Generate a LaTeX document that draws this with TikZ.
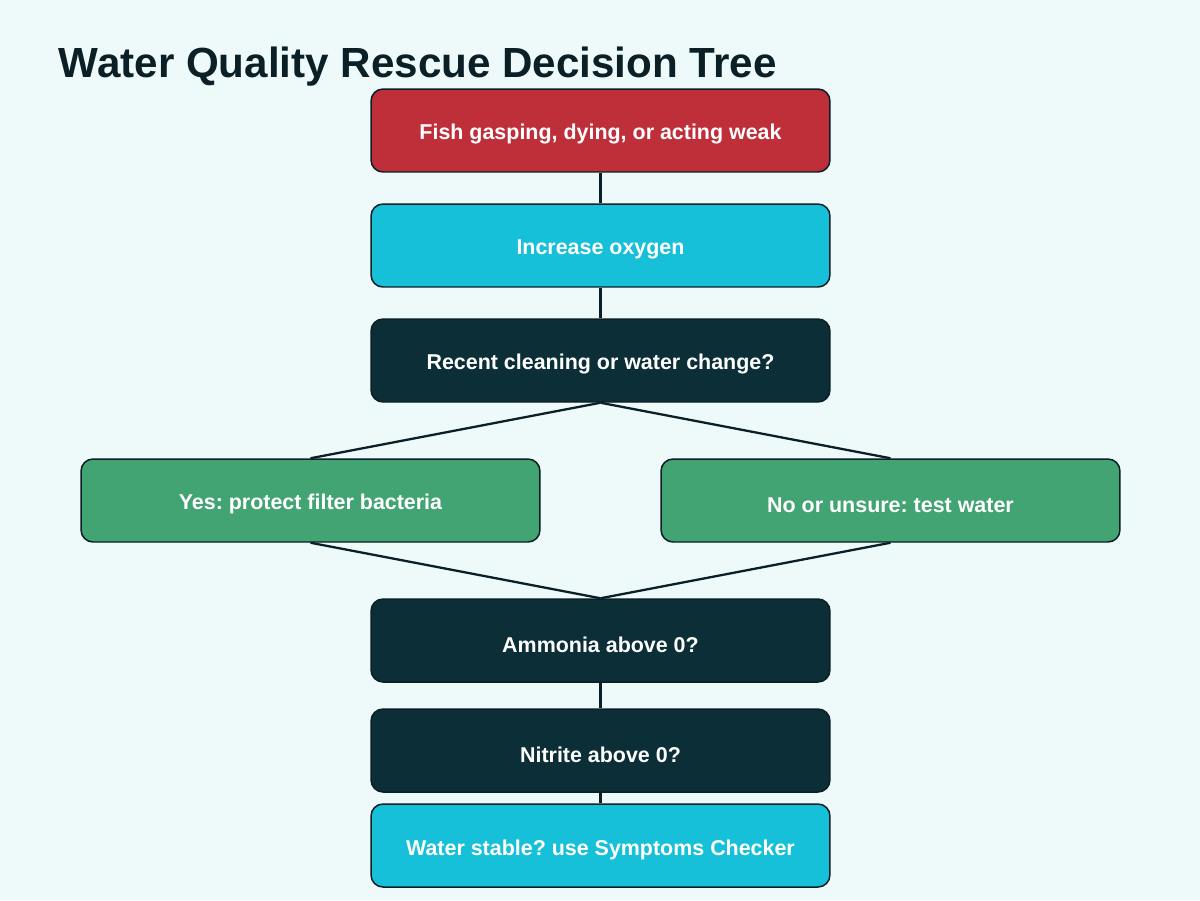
\documentclass[tikz,border=0pt]{standalone}
\usepackage{fontspec}
\setmainfont{Liberation Sans}
\frenchspacing
\definecolor{bg}{HTML}{EEF9FA}
\definecolor{ink}{HTML}{0B1F26}
\definecolor{alarm}{HTML}{BE2F3A}
\definecolor{act}{HTML}{16C0D8}
\definecolor{ask}{HTML}{0B2E37}
\definecolor{path}{HTML}{42A373}
\begin{document}
\begin{tikzpicture}[x=0.02cm,y=-0.02cm,
  box/.style={draw=ink,line width=0.85pt,rounded corners=6.8pt,minimum width=9.18cm,minimum height=1.66cm,inner sep=0pt,text height=10.8pt,text depth=0pt,text=white,font=\bfseries\fontsize{12.2pt}{14pt}\selectfont},
  low/.style={text height=14.2pt},
  link/.style={draw=ink,line width=1.3pt}]
\useasboundingbox[fill=bg] (0,0) rectangle (1200,900);
\node[anchor=base west,inner sep=0pt,text=ink,font=\bfseries\fontsize{24pt}{28pt}\selectfont] (title) at (58.5,77) {Water Quality Rescue Decision Tree};
\node[box,fill=alarm] (fish) at (600.5,130.5) {Fish gasping, dying, or acting weak};
\node[box,fill=act] (oxy) at (600.5,245.5) {Increase oxygen};
\node[box,fill=ask] (recent) at (600.5,360.5) {Recent cleaning or water change?};
\node[box,fill=path] (yes) at (310.5,500.5) {Yes: protect filter bacteria};
\node[box,fill=path,low] (no) at (890.5,500.5) {No or unsure: test water};
\node[box,fill=ask,low] (amm) at (600.5,640.5) {Ammonia above 0?};
\node[box,fill=ask,low] (nit) at (600.5,750.5) {Nitrite above 0?};
\node[box,fill=act] (stable) at (600.5,845.5) {Water stable? use Symptoms Checker};
\draw[link] (fish) -- (oxy);
\draw[link] (oxy) -- (recent);
\draw[link] (recent.south) -- (yes.north);
\draw[link] (recent.south) -- (no.north);
\draw[link] (yes.south) -- (amm.north);
\draw[link] (no.south) -- (amm.north);
\draw[link] (amm) -- (nit);
\draw[link] (nit) -- (stable);
\end{tikzpicture}
\end{document}
